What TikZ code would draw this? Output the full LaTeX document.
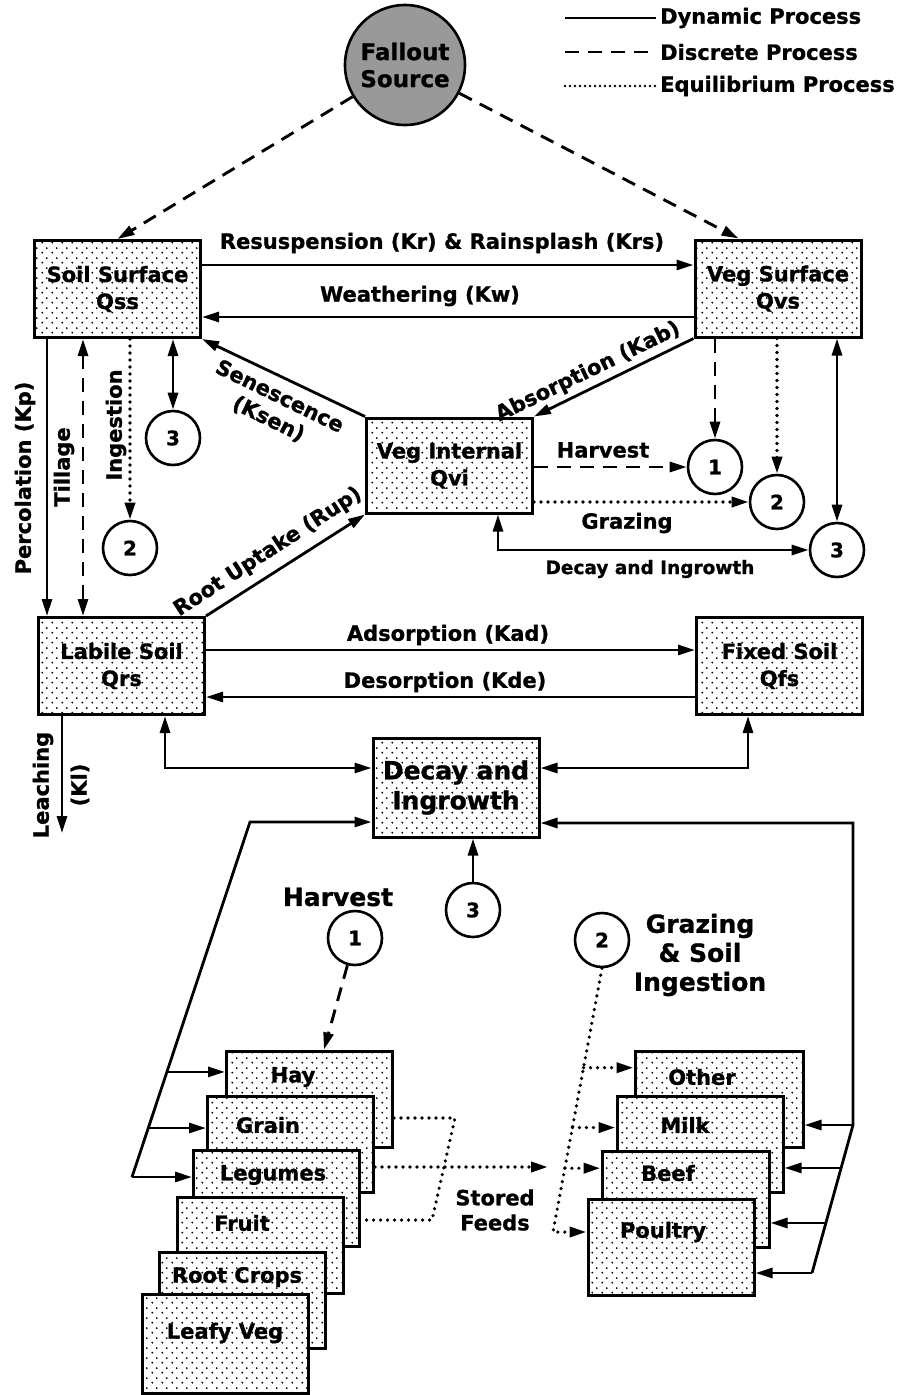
\documentclass[tikz,border=0pt]{standalone}
\usepackage{fontspec}
\setmainfont{DejaVu Sans}[BoldFeatures={FakeBold=1}]
\usetikzlibrary{arrows.meta,patterns,calc}
\pgfdeclarepatternformonly{sparsedots}{\pgfqpoint{0pt}{0pt}}{\pgfqpoint{10pt}{10pt}}{\pgfqpoint{10pt}{10pt}}{%
 \pgfpathcircle{\pgfqpoint{2.5pt}{2.5pt}}{1.1pt}%
 \pgfpathcircle{\pgfqpoint{7.5pt}{7.5pt}}{1.1pt}%
 \pgfusepath{fill}}
\begin{document}
\begin{tikzpicture}[x=1pt,y=-1pt,
 >={Triangle[length=17pt,width=10pt]},
 dyn/.style={line width=2.8pt},
 disc/.style={line width=2.9pt, dash pattern=on 14pt off 9pt},
 eqp/.style={line width=3.6pt, line cap=round, dash pattern=on 0pt off 7pt},
 mbox/.style={draw, line width=3pt, preaction={fill=white}, pattern=sparsedots, minimum width=166pt, minimum height=97pt, inner sep=0pt, align=center, font=\bfseries\fontsize{21}{27}\selectfont},
 sbox/.style={draw, line width=3pt, preaction={fill=white}, pattern=sparsedots, minimum width=166pt, minimum height=96pt, inner sep=0pt},
 circ/.style={draw, circle, line width=2.6pt, fill=white, minimum size=54pt, inner sep=0pt, font=\bfseries\fontsize{20}{22}\selectfont},
 lbl/.style={font=\bfseries\fontsize{21}{25}\selectfont, inner sep=0pt, align=center},
 slbl/.style={font=\bfseries\fontsize{18.5}{22}\selectfont, inner sep=0pt, align=center},
 big/.style={font=\bfseries\fontsize{25}{29}\selectfont, inner sep=0pt, align=center},
 ]
\fill[white] (0,0) rectangle (913,1395);
\useasboundingbox (0,0) rectangle (913,1395);

% legend
\node[lbl, anchor=west] (lg1) at (660,18) {Dynamic Process};
\node[lbl, anchor=west] (lg2) at (660,52) {Discrete Process};
\node[lbl, anchor=west] (lg3) at (660,86) {Equilibrium Process};
\coordinate (lgS) at (565,0);
\draw[dyn] (lgS |- lg1.west) -- ([xshift=-4pt]lg1.west);
\draw[disc] (lgS |- lg2.west) -- ([xshift=-4pt]lg2.west);
\draw[line width=2.6pt, line cap=round, dash pattern=on 0pt off 5pt] (lgS |- lg3.west) -- ([xshift=-4pt]lg3.west);

% main nodes
\node[circle, draw, line width=2.6pt, fill=black!40, minimum size=120pt, inner sep=0pt, align=center, font=\bfseries\fontsize{23}{27}\selectfont] (fs) at (405,65) {Fallout\\Source};
\node[mbox] (ss) at (117.5,289) {Soil Surface\\Qss};
\node[mbox] (vs) at (778,288.5) {Veg Surface\\Qvs};
\node[mbox, minimum height=95pt] (vi) at (449.5,465.5) {Veg Internal\\Qvi};
\node[mbox] (ls) at (121.5,666) {Labile Soil\\Qrs};
\node[mbox] (fx) at (779.5,666) {Fixed Soil\\Qfs};
\node[mbox, minimum height=99pt, font=\bfseries\fontsize{25}{30}\selectfont] (dg) at (456,787.5) {Decay and\\Ingrowth};

\node[circ] (c3l) at (173,438) {3};
\node[circ] (c2l) at (130,548) {2};
\node[circ] (c1u) at (715,467) {1};
\node[circ] (c2u) at (777,502) {2};
\node[circ] (c3u) at (837,550) {3};
\node[circ] (c3b) at (473,910) {3};
\node[circ] (c1b) at (355,938) {1};
\node[circ] (c2b) at (602,940) {2};

% fallout
\coordinate (vsIn) at ($(vs.north west)+(45,0)$);
\draw[disc,->] (fs) -- (ss.north);
\draw[disc,->] (fs) -- (vsIn);

% horizontal flows
\coordinate (yRes) at (0,265);
\coordinate (yWe) at (0,317);
\coordinate (yAd) at (0,650);
\coordinate (yDe) at (0,697);
\draw[dyn,->] (ss.east |- yRes) -- (vs.west |- yRes);
\draw[dyn,->] (vs.west |- yWe) -- (ss.east |- yWe);
\draw[dyn,->] (ls.east |- yAd) -- (fx.west |- yAd);
\draw[dyn,->] (fx.west |- yDe) -- (ls.east |- yDe);
\node[lbl] (tRes) at (442,243) {Resuspension (Kr) \& Rainsplash (Krs)};
\node[lbl] (tWe) at (420,296) {Weathering (Kw)};
\node[lbl] (tAd) at (448,635) {Adsorption (Kad)};
\node[lbl] (tDe) at (445,682) {Desorption (Kde)};

% diagonals
\draw[dyn,->] (vi.north west) -- (ss.south east);
\draw[dyn,->] (vs.south west) -- (vi.north east);
\draw[dyn,->] (ls.north east) -- (vi.south west);
\node[lbl, rotate=-26] (tSen) at (274,408) {Senescence\\(Ksen)};
\node[lbl, rotate=26] (tAb) at (588,372) {Absorption (Kab)};
\node[lbl, rotate=33] (tRu) at (268,552) {Root Uptake (Rup)};

% left verticals
\coordinate (xPe) at (47,0);
\coordinate (xTi) at (83,0);
\draw[dyn,->] (ss.south -| xPe) -- (ls.north -| xPe);
\draw[disc,<->] (ss.south -| xTi) -- (ls.north -| xTi);
\draw[eqp,->] (ss.south -| c2l) -- (c2l.north);
\draw[dyn,<->] (ss.south -| c3l) -- (c3l.north);
\node[lbl, rotate=90] (tPe) at (25,478) {Percolation (Kp)};
\node[lbl, rotate=90] (tTi) at (64,467) {Tillage};
\node[lbl, rotate=90] (tIn) at (116,425) {Ingestion};

% right verticals
\draw[disc,->] (vs.south -| c1u) -- (c1u.north);
\draw[eqp,->] (vs.south -| c2u) -- (c2u.north);
\draw[dyn,<->] (vs.south -| c3u) -- (c3u.north);

% from veg internal
\coordinate (xDI) at (498,0);
\draw[disc,->] (vi.east |- c1u) -- (c1u.west);
\draw[eqp,->] (vi.east |- c2u) -- (c2u.west);
\draw[dyn,<->] (vi.south -| xDI) -- (xDI |- c3u) -- (c3u.west);
\node[lbl] (tHa) at (603,450) {Harvest};
\node[lbl] (tGr) at (627,523) {Grazing};
\node[slbl] (tDI) at (650,569) {Decay and Ingrowth};

% leaching
\coordinate (xLe) at (62,833);
\draw[dyn,->] (ls.south -| xLe) -- (xLe);
\node[lbl, rotate=90] (tLe) at (43,785) {Leaching};
\node[lbl, rotate=90] (tKl) at (80,785) {(Kl)};

% decay links
\coordinate (yDL) at (0,768);
\coordinate (xL) at (165,0);
\coordinate (xR) at (748,0);
\draw[dyn,<->] (ls.south -| xL) -- (xL |- yDL) -- (dg.west |- yDL);
\draw[dyn,<->] (fx.south -| xR) -- (xR |- yDL) -- (dg.east |- yDL);

% crop boxes
\node[sbox] (hay) at (309.5,1099) {};
\node[lbl] (tHay) at (293,1077) {Hay};
\node[sbox] (grain) at (290.5,1144.5) {};
\node[lbl] (tGrain) at (268,1125) {Grain};
\node[sbox] (leg) at (276.5,1198.5) {};
\node[lbl] (tLeg) at (273,1175) {Legumes};
\node[sbox] (fruit) at (260.5,1245) {};
\node[lbl] (tFruit) at (242,1223) {Fruit};
\node[sbox] (root) at (242.5,1300) {};
\node[lbl] (tRoot) at (237,1277) {Root Crops};
\node[sbox, minimum height=99pt] (leafy) at (225.5,1343.5) {};
\node[lbl] (tLeafy) at (225,1333) {Leafy Veg};

% animal boxes
\node[sbox, minimum width=168pt] (other) at (719,1099.5) {};
\node[lbl] (tOther) at (702,1077) {Other};
\node[sbox] (milk) at (700,1144.5) {};
\node[lbl] (tMilk) at (685,1125) {Milk};
\node[sbox, minimum width=167pt] (beef) at (685.5,1199) {};
\node[lbl] (tBeef) at (668,1173) {Beef};
\node[sbox] (poultry) at (671,1247) {};
\node[lbl] (tPoultry) at (663,1232) {Poultry};

% lower feedback left
\coordinate (fbL1) at (250,822);
\coordinate (fbL2) at (132,1177);
\draw[dyn,->] (fbL2) -- (fbL1) -- (dg.west |- fbL1);
\draw[dyn,->] (fbL2) -- (leg.west |- fbL2);
\coordinate (hb) at ($(fbL1)!0.704!(fbL2)$);
\coordinate (gb) at ($(fbL1)!0.862!(fbL2)$);
\draw[dyn,->] (hb) -- (hay.west |- hb);
\draw[dyn,->] (gb) -- (grain.west |- gb);

% lower feedback right
\coordinate (fbR1) at (853,823);
\coordinate (fbR2) at (853,1125);
\coordinate (fbR3) at (812,1273);
\draw[dyn,->] (fbR3) -- (fbR2) -- (fbR1) -- (dg.east |- fbR1);
\draw[dyn,->] (fbR2) -- (other.east |- fbR2);
\coordinate (mb) at ($(fbR2)!0.29!(fbR3)$);
\coordinate (bb) at ($(fbR2)!0.662!(fbR3)$);
\draw[dyn,->] (mb) -- (milk.east |- mb);
\draw[dyn,->] (bb) -- (beef.east |- bb);
\draw[dyn,->] (fbR3) -- (poultry.east |- fbR3);

% lower circles
\draw[dyn,->] (c3b.north) -- (c3b.north |- dg.south);
\coordinate (hayIn) at ($(hay.north west)+(99,0)$);
\draw[disc,->] (c1b) -- (hayIn);
\node[big] (tHarv) at (338,897) {Harvest};
\node[big] (tGSI) at (700,955) {Grazing\\\& Soil\\Ingestion};

% grazing dotted to animals
\coordinate (pl) at (553,1232);
\draw[eqp,->] (c2b.south) -- (pl) -- (poultry.west |- pl);
\coordinate (ob) at ($(c2b.south)!0.377!(pl)$);
\coordinate (mlb) at ($(c2b.south)!0.604!(pl)$);
\coordinate (bfb) at ($(c2b.south)!0.758!(pl)$);
\draw[eqp,->] (ob) -- (other.west |- ob);
\draw[eqp,->] (mlb) -- (milk.west |- mlb);
\draw[eqp,->] (bfb) -- (beef.west |- bfb);

% stored feeds
\coordinate (sf1) at (455,1118);
\coordinate (sf2) at (432,1220);
\coordinate (sfE) at (548,1167);
\draw[eqp] (hay.east |- sf1) -- (sf1) -- (sf2) -- (leg.east |- sf2);
\draw[eqp,->] (grain.east |- sfE) -- (sfE);
\node[lbl] (tSF) at (495,1210) {Stored\\Feeds};
\end{tikzpicture}
\end{document}
